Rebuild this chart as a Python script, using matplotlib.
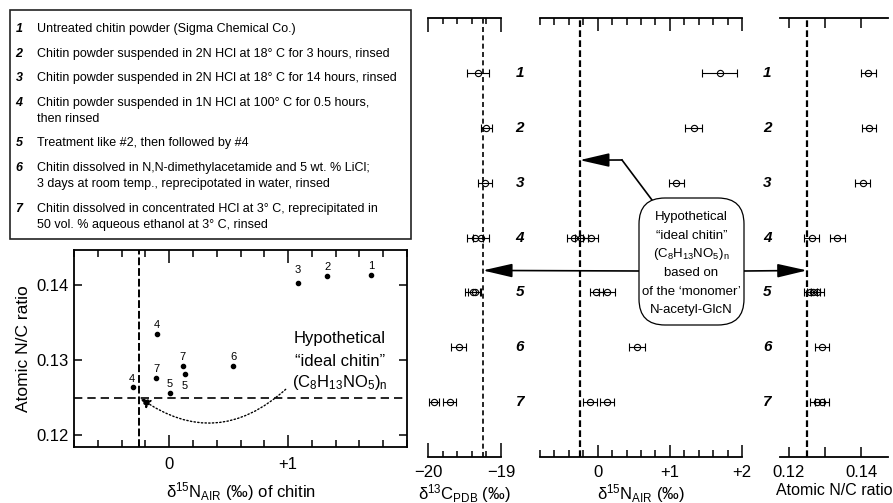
import matplotlib
matplotlib.use('Agg')
import matplotlib.pyplot as plt
from matplotlib.patches import FancyBboxPatch, Rectangle
from matplotlib.lines import Line2D
from matplotlib.ticker import FixedLocator, FixedFormatter, MultipleLocator
from matplotlib.transforms import Affine2D, blended_transform_factory

plt.rcParams['font.family'] = ['Liberation Sans', 'DejaVu Sans']
plt.rcParams['mathtext.fontset'] = 'custom'
plt.rcParams['mathtext.rm'] = 'Liberation Sans'
plt.rcParams['mathtext.it'] = 'Liberation Sans:italic'
plt.rcParams['mathtext.bf'] = 'Liberation Sans:bold'

W, H = 893, 503

# treatments
treat_num = ['1', '2', '3', '4', '5', '6', '7']
treat_text = [
    'Untreated chitin powder (Sigma Chemical Co.)',
    'Chitin powder suspended in 2N HCl at 18\u00b0 C for 3 hours, rinsed',
    'Chitin powder suspended in 2N HCl at 18\u00b0 C for 14 hours, rinsed',
    'Chitin powder suspended in 1N HCl at 100\u00b0 C for 0.5 hours,\nthen rinsed',
    'Treatment like #2, then followed by #4',
    'Chitin dissolved in N,N-dimethylacetamide and 5 wt. % LiCl;\n3 days at room temp., reprecipotated in water, rinsed',
    'Chitin dissolved in concentrated HCl at 3\u00b0 C, reprecipitated in\n50 vol. % aqueous ethanol at 3\u00b0 C, rinsed',
]

# scatter: d15N vs N/C
sc_label = ['1', '2', '3', '4', '4', '5', '5', '6', '7', '7']
sc_d15n = [1.70, 1.33, 1.08, -0.30, -0.105, 0.005, 0.13, 0.54, -0.11, 0.115]
sc_nc = [0.1414, 0.1412, 0.1403, 0.1264, 0.1335, 0.1256, 0.1282, 0.1292, 0.1276, 0.1292]

# strip panels (row = treatment number)
d13c_row = [1, 2, 3, 4, 4, 5, 5, 6, 7, 7]
d13c_val = [-19.32, -19.20, -19.22, -19.36, -19.28, -19.39, -19.36, -19.58, -19.92, -19.70]
d13c_err = [0.15, 0.07, 0.10, 0.11, 0.11, 0.10, 0.09, 0.10, 0.07, 0.09]

d15n_row = [1, 2, 3, 4, 4, 4, 5, 5, 6, 7, 7]
d15n_val = [1.69, 1.33, 1.09, -0.33, -0.23, -0.10, -0.02, 0.13, 0.55, -0.11, 0.13]
d15n_err = [0.24, 0.12, 0.10, 0.09, 0.09, 0.11, 0.09, 0.11, 0.11, 0.10, 0.10]

nc_row = [1, 2, 3, 4, 4, 5, 5, 5, 6, 7, 7]
nc_val = [0.1420, 0.1422, 0.1405, 0.1263, 0.1334, 0.1259, 0.1268, 0.1278, 0.1292, 0.1278, 0.1292]
nc_err = [0.0021, 0.0020, 0.0021, 0.0020, 0.0021, 0.0018, 0.0018, 0.0018, 0.0020, 0.0020, 0.0020]

ideal_d13c = -19.25
ideal_d15n = -0.25
ideal_nc = 0.125

fig = plt.figure(figsize=(W / 100, H / 100), dpi=100)
pxT = Affine2D().scale(1 / W, 1 / H) + fig.transFigure  # pixels from bottom-left


def px_axes(x0, y0, x1, y1):
    return fig.add_axes([x0 / W, 1 - y1 / H, (x1 - x0) / W, (y1 - y0) / H])


def fy(y):
    return 1 - y / H


# ---- legend box of treatments
fig.add_artist(Rectangle((10, H - 239), 401, 229, transform=pxT, fill=False,
                         lw=1.2, ec='#222222'))
y = 29
for num, txt in zip(treat_num, treat_text):
    fig.text(19 / W, fy(y), num, ha='center', va='center', fontsize=9,
             fontweight='bold', fontstyle='italic')
    for k, line in enumerate(txt.split('\n')):
        fig.text(37 / W, fy(y + 16 * k), line, ha='left', va='center', fontsize=9)
    y += 24.6 + 16 * txt.count('\n')

# ---- scatter
ax0 = px_axes(74, 250, 407, 447)
ax0.set_xlim(-0.8, 2.0)
ax0.set_ylim(0.1184, 0.1447)
ax0.axhline(ideal_nc, ls=(0, (5, 3)), lw=1.2, color='black', zorder=1)
ax0.axvline(ideal_d15n, ls=(0, (4, 1.5)), lw=1.4, color='black', zorder=1)
ax0.scatter(sc_d15n, sc_nc, s=9, color='black', zorder=3)
offs = {2: (0, 9), 3: (-1, 6), 6: (0, -9)}
for i, (lab, xv, yv) in enumerate(zip(sc_label, sc_d15n, sc_nc)):
    dx, dy = offs.get(i, (0, 6.5))
    ax0.annotate(lab, (xv, yv), xytext=(dx, dy), textcoords='offset points',
                 ha='center', va='center', fontsize=8)
ax0.xaxis.set_major_locator(FixedLocator([0, 1]))
ax0.xaxis.set_major_formatter(FixedFormatter(['0', '+1']))
ax0.xaxis.set_minor_locator(MultipleLocator(0.2))
ax0.yaxis.set_major_locator(FixedLocator([0.12, 0.13, 0.14]))
ax0.yaxis.set_major_formatter(FixedFormatter(['0.12', '0.13', '0.14']))
ax0.tick_params(axis='x', which='both', direction='in', top=True, bottom=True, width=1.1)
ax0.tick_params(axis='x', which='major', length=9, labelsize=12, pad=7)
ax0.tick_params(axis='x', which='minor', length=5)
ax0.tick_params(axis='y', which='major', direction='in', left=True, right=True,
                length=6, width=1.1, labelsize=12, pad=4)
for s in ax0.spines.values():
    s.set_linewidth(1.3)
ax0.set_xlabel('\u03b4$^{15}$N$_{\\mathrm{AIR}}$ (\u2030) of chitin', fontsize=12, labelpad=6)
ax0.set_ylabel('Atomic N/C ratio', fontsize=12.5, labelpad=4)
for k, line in enumerate(['Hypothetical', '\u201cideal chitin\u201d',
                          '(C$_8$H$_{13}$NO$_5$)$_{\\mathrm{n}}$']):
    fig.text(340 / W, fy(339 + 22 * k), line, ha='center', va='center', fontsize=12)
ax0.annotate('', xy=(ideal_d15n, ideal_nc), xytext=(0.98, 0.1261),
             arrowprops=dict(arrowstyle='-|>,head_length=0.5,head_width=0.25', linestyle=':',
                             connectionstyle='arc3,rad=-0.4', color='black', lw=1.0,
                             mutation_scale=12, shrinkA=0, shrinkB=1))


# ---- strip panels
def strip_panel(ax, lo, hi, major, labels, minor_step, major_len, minor_len):
    ax.set_xlim(lo, hi)
    ax.set_ylim(8, 0)
    ax.patch.set_visible(False)
    ax.spines['left'].set_visible(False)
    ax.spines['right'].set_visible(False)
    ax.spines['top'].set_linewidth(1.3)
    ax.spines['bottom'].set_linewidth(1.3)
    ax.set_yticks([])
    ax.xaxis.set_major_locator(FixedLocator(major))
    ax.xaxis.set_major_formatter(FixedFormatter(labels))
    if minor_step:
        ax.xaxis.set_minor_locator(MultipleLocator(minor_step))
    ax.tick_params(axis='x', which='both', direction='in', top=True, bottom=True, width=1.1)
    ax.tick_params(axis='x', which='major', length=major_len, labelsize=12, pad=6)
    ax.tick_params(axis='x', which='minor', length=minor_len)


eb = dict(fmt='o', mfc='none', mec='black', ms=4.5, mew=0.8, ecolor='black',
          elinewidth=0.8, capsize=2.6, capthick=0.8)

ax1 = px_axes(428, 18, 501, 457)
strip_panel(ax1, -20, -19, [-20, -19], ['\u221220', '\u221219'], 0.2, 10, 4.5)
ax1.axvline(ideal_d13c, ls=(0, (3, 2)), lw=1.2, color='black')
ax1.errorbar(d13c_val, d13c_row, xerr=d13c_err, **eb)
ax1.set_xlabel('\u03b4$^{13}$C$_{\\mathrm{PDB}}$ (\u2030)', fontsize=12, labelpad=1)

ax2 = px_axes(540, 18, 742, 457)
strip_panel(ax2, -0.8, 2.0, [0, 1, 2], ['0', '+1', '+2'], 0.2, 9, 5)
ax2.axvline(ideal_d15n, ls=(0, (3, 1.5)), lw=1.6, color='black')
ax2.errorbar(d15n_val, d15n_row, xerr=d15n_err, **eb)
ax2.set_xlabel('\u03b4$^{15}$N$_{\\mathrm{AIR}}$ (\u2030)', fontsize=12, labelpad=1)

ax3 = px_axes(780, 18, 888, 457)
strip_panel(ax3, 0.1175, 0.1475, [0.12, 0.13, 0.14], ['0.12', '', '0.14'], None, 7, 4)
ax3.axvline(ideal_nc, ls=(0, (3, 1.5)), lw=1.6, color='black')
ax3.errorbar(nc_val, nc_row, xerr=nc_err, **eb)
ax3.set_xlabel('Atomic N/C ratio', fontsize=11.5, labelpad=2)

# treatment numbers beside panels
for ax, xa in ((ax1, 1.26), (ax2, 1.124)):
    tr = blended_transform_factory(ax.transAxes, ax.transData)
    for i, num in enumerate(treat_num):
        ax.text(xa, i + 1, num, transform=tr, ha='center', va='center', fontsize=11,
                fontweight='bold', fontstyle='italic')

# ---- callout box
fig.add_artist(FancyBboxPatch((639, H - 325), 105, 127, transform=pxT,
                              boxstyle='round,pad=0,rounding_size=26',
                              fc='white', ec='black', lw=0.9, zorder=5))
callout = ['Hypothetical', '\u201cideal chitin\u201d', '(C$_8$H$_{13}$NO$_5$)$_{\\mathrm{n}}$',
           'based on', 'of the \u2018monomer\u2019', 'N-acetyl-GlcN']
for k, line in enumerate(callout):
    fig.text(691.5 / W, fy(217 + 18.7 * k), line, ha='center', va='center',
             fontsize=9.5, zorder=6)

arr = dict(arrowstyle='-|>,head_length=1.3,head_width=0.3', color='black', lw=1.2,
           mutation_scale=14, shrinkA=0, shrinkB=0)
fig.add_artist(Line2D([652, 622], [H - 200, H - 160], transform=pxT, color='black', lw=1.2))
ax3.annotate('', xy=(ideal_d15n, 2.59), xycoords=ax2.transData,
             xytext=(622 / W, fy(160)), textcoords='figure fraction',
             arrowprops=arr, annotation_clip=False)
ax3.annotate('', xy=(ideal_d13c, 4.6), xycoords=ax1.transData,
             xytext=(639 / W, fy(271)), textcoords='figure fraction',
             arrowprops=arr, annotation_clip=False)
ax3.annotate('', xy=(ideal_nc, 4.6), xycoords=ax3.transData,
             xytext=(744 / W, fy(271)), textcoords='figure fraction',
             arrowprops=arr, annotation_clip=False)

fig.savefig('out.png', dpi=100)
